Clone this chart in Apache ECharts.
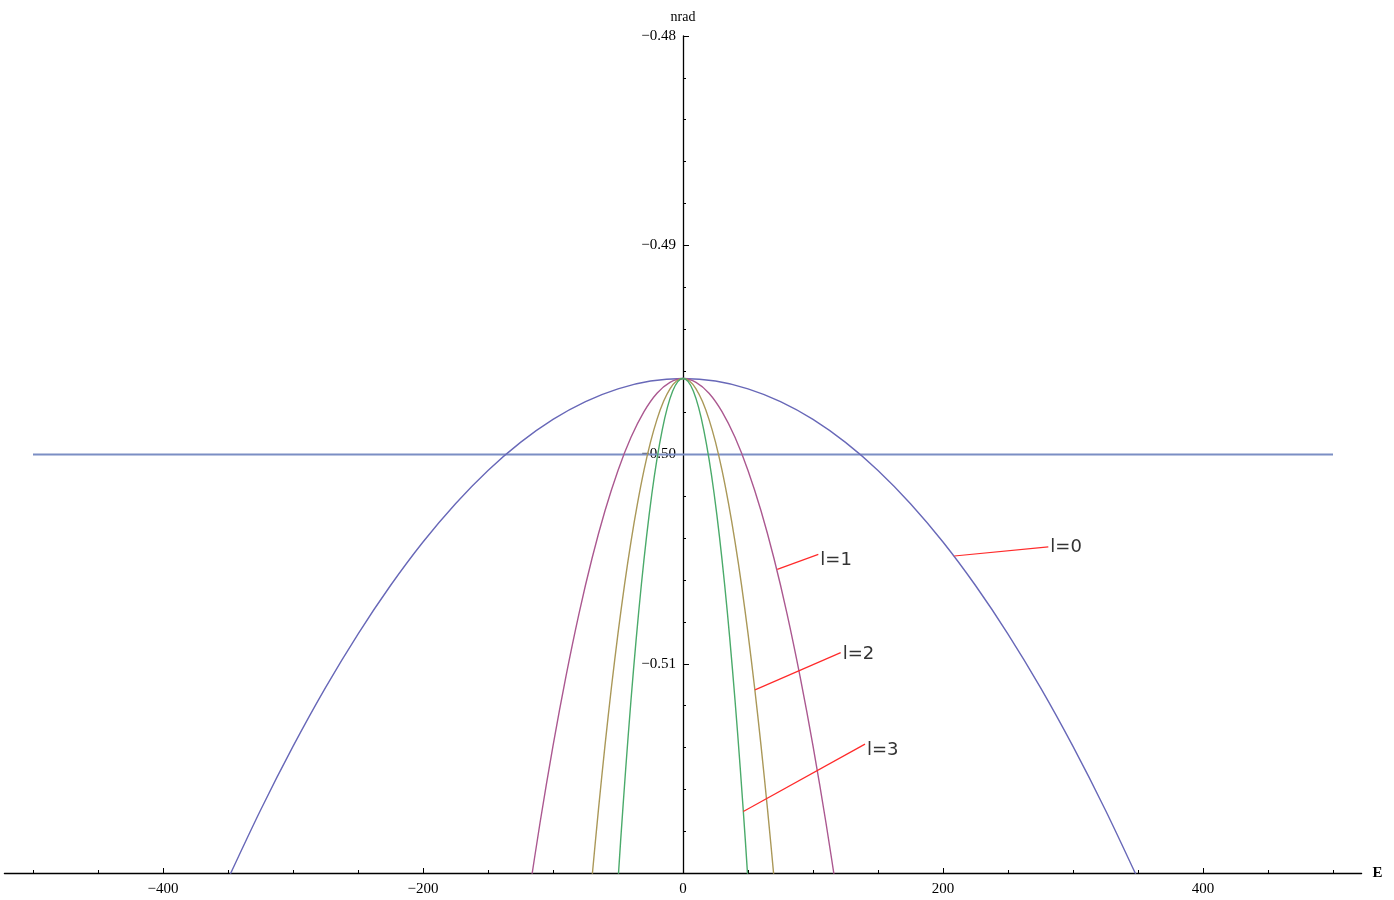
<!DOCTYPE html>
<html>
<head>
<meta charset="utf-8">
<script src="https://cdn.jsdelivr.net/npm/echarts@6/dist/echarts.min.js"></script>
<style>
  html, body { margin: 0; padding: 0; background: #fff; }
  #main { width: 1394px; height: 900px; }
</style>
</head>
<body>
<div id="main"></div>
<script>
// values (E on x, nrad on y)
var l0E = [-350, -325, -300, -275, -250, -225, -200, -175, -150, -125, -100, -75, -50, -25, 0,
    25, 50, 75, 100, 125, 150, 175, 200, 225, 250, 275, 300, 325, 350];
var l0Y = [-0.52029, -0.51700, -0.51395, -0.51114, -0.50858, -0.50626, -0.50418, -0.50235, -0.50076, -0.49942,
    -0.49832, -0.49747, -0.49686, -0.49649, -0.49637,
    -0.49649, -0.49686, -0.49747, -0.49832, -0.49942, -0.50076, -0.50235, -0.50418, -0.50626, -0.50858,
    -0.51114, -0.51395, -0.51700, -0.52029];

var l1E = [-120, -110, -100, -90, -80, -70, -60, -50, -40, -30, -20, -10, 0,
    10, 20, 30, 40, 50, 60, 70, 80, 90, 100, 110, 120];
var l1Y = [-0.52164, -0.51761, -0.51392, -0.51059, -0.50760, -0.50497, -0.50269, -0.50076, -0.49918, -0.49795,
    -0.49707, -0.49655, -0.49637,
    -0.49655, -0.49707, -0.49795, -0.49918, -0.50076, -0.50269, -0.50497, -0.50760, -0.51059, -0.51392,
    -0.51761, -0.52164];

var l2E = [-75, -70, -65, -60, -55, -50, -45, -40, -35, -30, -25, -20, -15, -10, -5, 0,
    5, 10, 15, 20, 25, 30, 35, 40, 45, 50, 55, 60, 65, 70, 75];
var l2Y = [-0.52380, -0.52023, -0.51695, -0.51390, -0.51110, -0.50855, -0.50623, -0.50416, -0.50234, -0.50075,
    -0.49941, -0.49832, -0.49747, -0.49686, -0.49649, -0.49637,
    -0.49649, -0.49686, -0.49747, -0.49832, -0.49941, -0.50075, -0.50234, -0.50416, -0.50623, -0.50855,
    -0.51110, -0.51390, -0.51695, -0.52023, -0.52380];

var l3E = [-52, -48, -44, -40, -36, -32, -28, -24, -20, -16, -12, -8, -4, 0,
    4, 8, 12, 16, 20, 24, 28, 32, 36, 40, 44, 48, 52];
var l3Y = [-0.52233, -0.51849, -0.51496, -0.51173, -0.50881, -0.50620, -0.50390, -0.50190, -0.50021, -0.49883,
    -0.49775, -0.49698, -0.49652, -0.49637,
    -0.49652, -0.49698, -0.49775, -0.49883, -0.50021, -0.50190, -0.50390, -0.50620, -0.50881, -0.51173,
    -0.51496, -0.51849, -0.52233];

// the flat reference line
var refE = [-500, 500];
var refY = [-0.5, -0.5];

// labels "l=n" with their pointer lines: start on curve, end at label
var noteNames = ['l=0', 'l=1', 'l=2', 'l=3'];
var noteStart = [[208.7, -0.50485], [72.5, -0.50549], [55.4, -0.51125], [46.4, -0.51706]];
var noteEnd = [[281.0, -0.50441], [104.1, -0.50477], [121.3, -0.50947], [140.0, -0.51384]];

// ticks
var xMajor = [-400, -200, 0, 200, 400];
var xMinor = [-500, -450, -350, -300, -250, -150, -100, -50, 50, 100, 150, 250, 300, 350, 450, 500];
var yLabels = [-0.51, -0.50, -0.49, -0.48];

// small vertical nudge of each note text (px), layout only
var noteNudge = [1, 6, 2, 6];

function pairs(xs, ys) {
    var out = [];
    for (var i = 0; i < xs.length; i++) {
        out.push([xs[i], ys[i]]);
    }
    return out;
}

function minus(v) {
    return v < 0 ? '\u2212' + Math.abs(v) : String(v);
}

var serif = 'Liberation Serif';

var curves = [
    { name: 'l0', xs: l0E, ys: l0Y, color: '#6868b8' },
    { name: 'l1', xs: l1E, ys: l1Y, color: '#ab5890' },
    { name: 'l2', xs: l2E, ys: l2Y, color: '#aa9858' },
    { name: 'l3', xs: l3E, ys: l3Y, color: '#4aaa6a' }
];

var series = [{
    type: 'line',
    name: 'ref',
    data: pairs(refE, refY),
    symbol: 'none',
    lineStyle: { color: '#7b8ec4', width: 2 },
    z: 2
}];

for (var i = 0; i < curves.length; i++) {
    series.push({
        type: 'line',
        name: curves[i].name,
        data: pairs(curves[i].xs, curves[i].ys),
        symbol: 'none',
        smooth: 0.3,
        clip: true,
        lineStyle: { color: curves[i].color, width: 1.4 },
        z: 3
    });
}

for (var j = 0; j < noteNames.length; j++) {
    series.push({
        type: 'line',
        name: noteNames[j],
        data: [noteStart[j], noteEnd[j]],
        symbol: 'none',
        lineStyle: { color: '#ff2a2a', width: 1.2 },
        z: 4,
        endLabel: {
            show: true,
            formatter: noteNames[j],
            color: '#333333',
            fontFamily: 'DejaVu Sans',
            fontSize: 18,
            distance: 2,
            offset: [0, noteNudge[j]]
        }
    });
}

var option = {
    backgroundColor: '#ffffff',
    animation: false,
    grid: [
        // plot area
        { left: 4.4, width: 1357.2, top: 36, height: 837, containLabel: false, outerBoundsMode: 'none' },
        // right half, only to hang the vertical axis at E = 0
        { left: 683, width: 678.6, top: 36, height: 837, containLabel: false, outerBoundsMode: 'none' }
    ],
    xAxis: [{
        type: 'value',
        gridIndex: 0,
        min: -522,
        max: 522,
        name: 'E',
        nameLocation: 'end',
        nameGap: 11,
        nameTextStyle: { fontFamily: serif, fontSize: 15, fontWeight: 'bold', color: '#000' },
        axisLine: { onZero: false, lineStyle: { color: '#000', width: 1.3 } },
        axisTick: { show: true, inside: true, length: 5, customValues: xMajor, lineStyle: { color: '#000' } },
        axisLabel: {
            customValues: xMajor,
            formatter: minus,
            fontFamily: serif,
            fontSize: 15,
            color: '#000',
            margin: 9
        },
        splitLine: { show: false }
    }, {
        type: 'value',
        gridIndex: 0,
        min: -522,
        max: 522,
        position: 'bottom',
        axisLine: { show: false, onZero: false },
        axisTick: { show: true, inside: true, length: 3, customValues: xMinor, lineStyle: { color: '#000' } },
        axisLabel: { show: false },
        splitLine: { show: false }
    }, {
        type: 'value',
        gridIndex: 1,
        min: 0,
        max: 522,
        show: false
    }],
    yAxis: [{
        type: 'value',
        gridIndex: 0,
        min: -0.52,
        max: -0.48,
        show: false
    }, {
        type: 'value',
        gridIndex: 1,
        position: 'left',
        min: -0.52,
        max: -0.48,
        interval: 0.01,
        name: 'nrad',
        nameLocation: 'end',
        nameGap: 12,
        nameTextStyle: { fontFamily: serif, fontSize: 14, color: '#000' },
        axisLine: { show: true, onZero: false, lineStyle: { color: '#000', width: 1.3 } },
        axisTick: { show: true, inside: true, length: 6, lineStyle: { color: '#000' } },
        minorTick: { show: true, splitNumber: 5, length: 3, lineStyle: { color: '#000' } },
        axisLabel: {
            customValues: yLabels,
            formatter: function (v) { return '\u2212' + Math.abs(v).toFixed(2); },
            fontFamily: serif,
            fontSize: 15,
            color: '#000',
            margin: 7
        },
        splitLine: { show: false },
        minorSplitLine: { show: false }
    }],
    series: series
};

var myChart = echarts.init(document.getElementById('main'));
myChart.setOption(option);
</script>
</body>
</html>
